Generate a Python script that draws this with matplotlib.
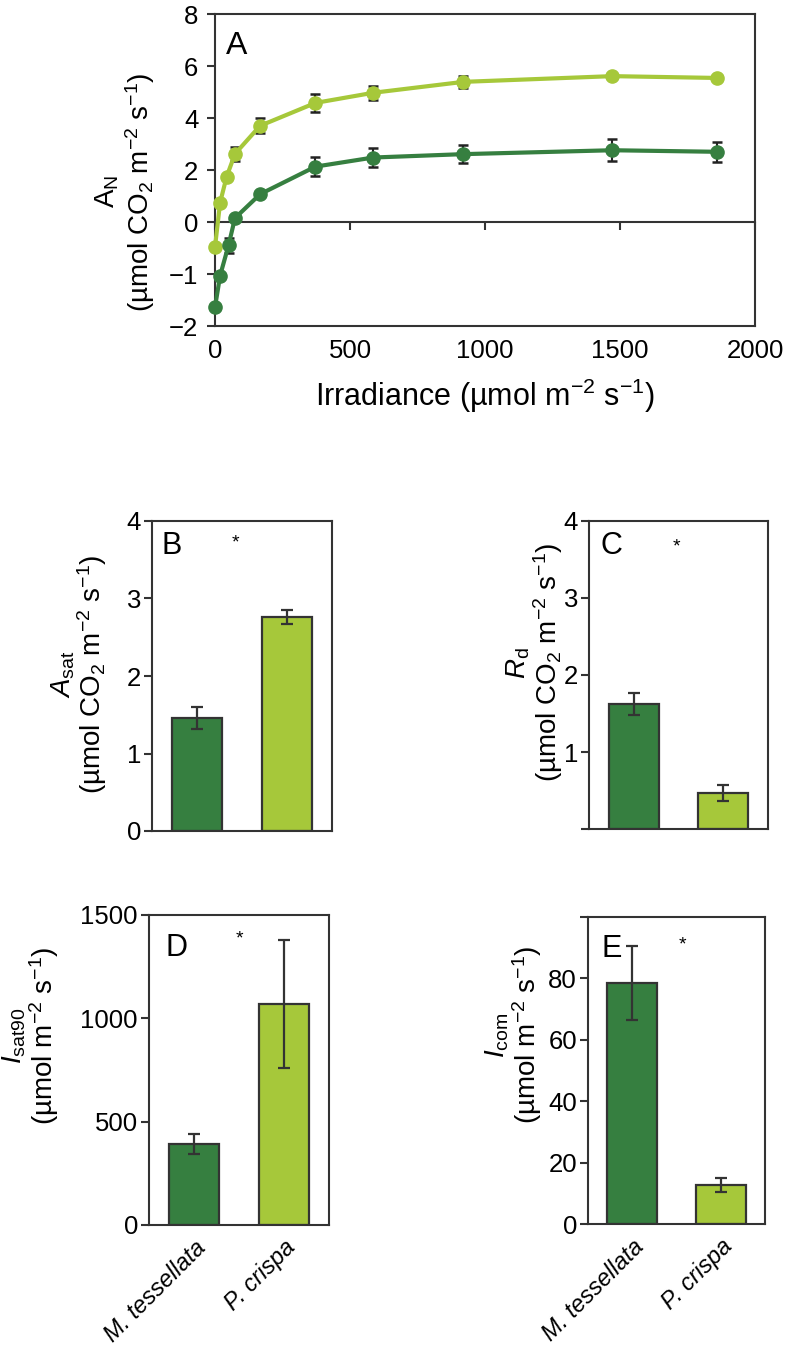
import numpy as np
import matplotlib
matplotlib.use("Agg")
import matplotlib.pyplot as plt

plt.rcParams['font.family'] = ['Liberation Sans', 'DejaVu Sans']
plt.rcParams['mathtext.fontset'] = 'custom'
plt.rcParams['mathtext.rm'] = 'Liberation Sans'
plt.rcParams['mathtext.it'] = 'Liberation Sans:italic'
plt.rcParams['mathtext.default'] = 'rm'

# ---- data ----
irr_light = [0, 19, 43, 74, 167, 372, 586, 920, 1471, 1861]
an_light = [-0.48, 0.75, 1.74, 2.62, 3.70, 4.58, 4.97, 5.39, 5.61, 5.54]
an_light_err = [0.05, 0.08, 0.12, 0.26, 0.29, 0.33, 0.26, 0.24, 0.10, 0.05]
irr_dark = [0, 19, 50, 74, 167, 372, 586, 920, 1471, 1861]
an_dark = [-1.64, -1.03, -0.45, 0.15, 1.07, 2.13, 2.48, 2.61, 2.76, 2.70]
an_dark_err = [0.05, 0.05, 0.15, 0.10, 0.10, 0.37, 0.37, 0.35, 0.43, 0.38]

species = ['M. tessellata', 'P. crispa']
asat = [1.46, 2.76]
asat_err = [0.14, 0.09]
rd = [1.62, 0.47]
rd_err = [0.14, 0.10]
isat90 = [392, 1068]
isat90_err = [50, 310]
icom = [78.6, 12.7]
icom_err = [12.0, 2.3]

dark = '#367f40'
light = '#a6c83a'
edge = '#333333'
TICK = 18.5
LAB = 20

W, H = 787, 1354
fig = plt.figure(figsize=(W / 100, H / 100), dpi=100)


def box(l, r, t, b):
    return [l / W, 1 - b / H, (r - l) / W, (b - t) / H]


def style(ax, pad=2):
    for s in ax.spines.values():
        s.set_color(edge)
        s.set_linewidth(1.5)
    ax.tick_params(axis='y', direction='out', length=6, width=1.5,
                   color=edge, labelsize=TICK, pad=pad)


# ---- panel A ----
ax = fig.add_axes(box(215, 755, 14, 326))
fwd = lambda y: np.where(y < 0, 2 * y, y)
inv = lambda y: np.where(y < 0, y / 2, y)
ax.set_yscale('function', functions=(fwd, inv))
ax.set_ylim(-2, 8)
ax.set_xlim(0, 2000)
ax.set_yticks([-2, -1, 0, 2, 4, 6, 8])
ax.set_yticklabels(['\u22122', '\u22121', '0', '2', '4', '6', '8'])
style(ax, pad=6)
ax.spines['bottom'].set_position(('data', 0))
ax.set_xticks([0, 500, 1000, 1500, 2000])
ax.tick_params(axis='x', direction='out', length=6, width=1.5,
               color=edge, labelbottom=False)
sec = ax.secondary_xaxis(0.0)
sec.set_xticks([0, 500, 1000, 1500, 2000])
sec.tick_params(length=0, labelsize=TICK, pad=9)
sec.spines['bottom'].set_color(edge)
sec.spines['bottom'].set_linewidth(1.5)
sec.set_xlabel('Irradiance (\u00b5mol m$^{\u22122}$ s$^{\u22121}$)',
               fontsize=22, labelpad=10)
for x, y, e, c in [(irr_light, an_light, an_light_err, light),
                   (irr_dark, an_dark, an_dark_err, dark)]:
    ax.errorbar(x, y, yerr=e, fmt='none', ecolor='#222222', elinewidth=1.5,
                capsize=3.8, capthick=1.8, zorder=2)
    ax.plot(x, y, color=c, lw=3, marker='o', ms=9.5, mec=c, zorder=3,
            clip_on=False)
ax.text(0.02, 0.945, 'A', transform=ax.transAxes, fontsize=23,
        va='top', ha='left')
ax.set_ylabel('A$_\\mathregular{N}$\n(\u00b5mol CO$_2$ m$^{\u22122}$ s$^{\u22121}$)',
              fontsize=LAB, linespacing=1.1)
ax.yaxis.set_label_coords(-0.107, 0.43)


# ---- bar panels ----
def bar_panel(rect, vals, errs, ylim, ticks, labels, letter, lpos, star,
              ylab, lab_xy, xlabels=False):
    ax = fig.add_axes(rect)
    ax.bar([0, 1], vals, width=0.56, color=[dark, light], edgecolor=edge,
           linewidth=1.6, zorder=2)
    ax.errorbar([0, 1], vals, yerr=errs, fmt='none', ecolor=edge,
                elinewidth=1.6, capsize=4.5, capthick=1.6, zorder=3)
    ax.set_xlim(-0.5, 1.5)
    ax.set_ylim(*ylim)
    ax.set_yticks(ticks)
    ax.set_yticklabels(labels)
    style(ax)
    ax.set_xticks([0, 1])
    if xlabels:
        ax.set_xticklabels(species, rotation=45, ha='right',
                           rotation_mode='anchor', style='italic',
                           fontsize=17)
        ax.tick_params(axis='x', length=0, pad=8)
    else:
        ax.tick_params(axis='x', length=0, labelbottom=False)
    ax.text(lpos[0], lpos[1], letter, transform=ax.transAxes, fontsize=22,
            va='top', ha='left')
    ax.text(star[0], star[1], '*', fontsize=14, ha='center', va='center')
    ax.set_ylabel(ylab, fontsize=LAB, linespacing=0.95)
    ax.yaxis.set_label_coords(*lab_xy)
    return ax


unit_co2 = '(\u00b5mol CO$_2$ m$^{\u22122}$ s$^{\u22121}$)'
unit_irr = '(\u00b5mol m$^{\u22122}$ s$^{\u22121}$)'

bar_panel(box(152, 332, 521, 831), asat, asat_err, (0, 4), [0, 1, 2, 3, 4],
          ['0', '1', '2', '3', '4'], 'B', (0.055, 0.968), (0.43, 3.72),
          '$\\mathit{A}_\\mathregular{sat}$\n' + unit_co2, (-0.237, 0.505))
bar_panel(box(589, 768, 521, 829), rd, rd_err, (0, 4), [0, 1, 2, 3, 4],
          ['', '1', '2', '3', '4'], 'C', (0.067, 0.968), (0.48, 3.66),
          '$\\mathit{R}_\\mathregular{d}$\n' + unit_co2, (-0.135, 0.54))
bar_panel(box(149, 329, 915, 1225), isat90, isat90_err, (0, 1500),
          [0, 500, 1000, 1500], ['0', '500', '1000', '1500'], 'D',
          (0.09, 0.942), (0.51, 1385),
          '$\\mathit{I}_\\mathregular{sat90}$\n' + unit_irr, (-0.49, 0.61),
          xlabels=True)
bar_panel(box(588, 765, 917, 1224), icom, icom_err, (0, 100),
          [0, 20, 40, 60, 80, 100], ['0', '20', '40', '60', '80', ''], 'E',
          (0.079, 0.946), (0.57, 91),
          '$\\mathit{I}_\\mathregular{com}$\n' + unit_irr, (-0.25, 0.615),
          xlabels=True)

fig.savefig('out.png', dpi=100)
